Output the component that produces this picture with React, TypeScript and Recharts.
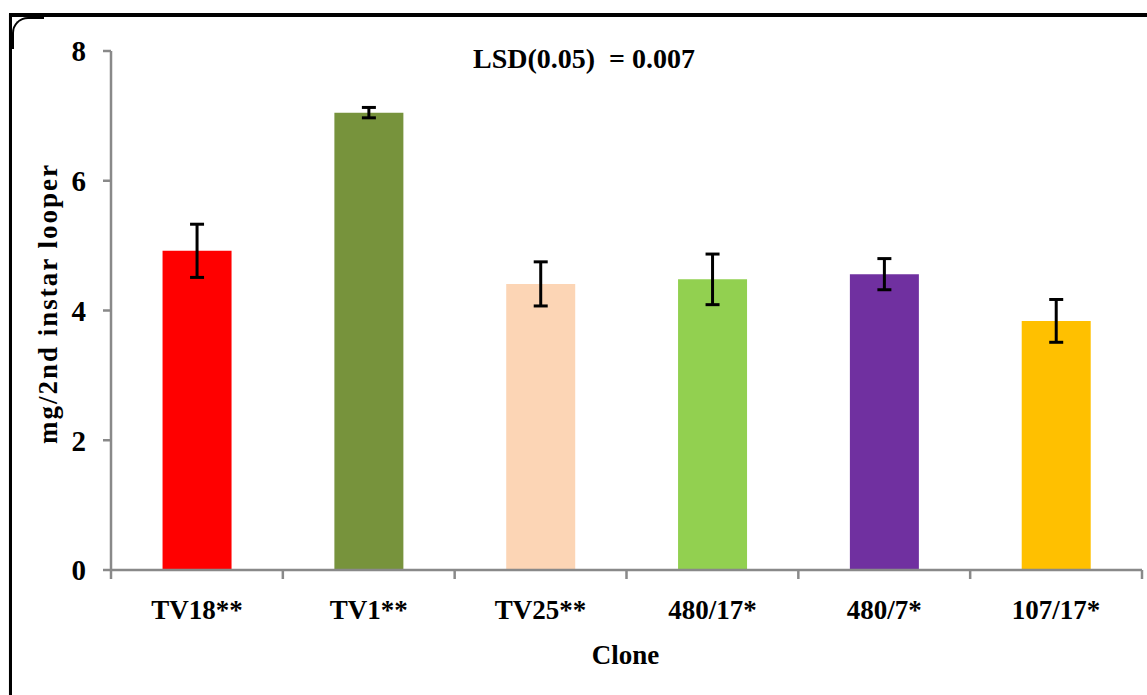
import { Bar, BarChart, Cell, ErrorBar, XAxis, YAxis } from "recharts";

const clones = ["TV18**", "TV1**", "TV25**", "480/17*", "480/7*", "107/17*"];
const means = [4.92, 7.05, 4.41, 4.48, 4.56, 3.84];
const errors = [0.41, 0.08, 0.34, 0.39, 0.24, 0.33];
const barColors = ["#FF0000", "#77933C", "#FCD5B5", "#92D050", "#7030A0", "#FFC000"];
const yTicks = [0, 2, 4, 6, 8];

const title = "LSD(0.05)  = 0.007";
const yTitle = "mg/2nd instar looper";
const xTitle = "Clone";

const font = "'Liberation Serif', 'Times New Roman', serif";
const axisGray = "#898989";
const xTickMargin = 30;

const rows = clones.map((clone, i) => ({ clone, mean: means[i], err: errors[i] }));

function YTitle({ viewBox }: any) {
    const cx = 57;
    const cy = viewBox.y + viewBox.height / 2 - 7;
    return (
        <text
            x={cx}
            y={cy}
            transform={`rotate(-90 ${cx} ${cy})`}
            textAnchor="middle"
            fontFamily={font}
            fontWeight="bold"
            fontSize={27}
            letterSpacing={2}
            fill="#000"
        >
            {yTitle}
        </text>
    );
}

function XTitle({ viewBox }: any) {
    return (
        <text
            x={viewBox.x + viewBox.width / 2 - 1}
            y={viewBox.y + 94}
            textAnchor="middle"
            fontFamily={font}
            fontWeight="bold"
            fontSize={27}
            fill="#000"
        >
            {xTitle}
        </text>
    );
}

// category label in the middle, tick marks on the category edges (Excel style)
function XTick(props: any) {
    const { x, y, payload, index, visibleTicksCount } = props;
    const axisWidth = Number(props.width) || 1031;
    const band = axisWidth / visibleTicksCount;
    const axisY = y - xTickMargin;
    const edge = (ex: number) => (
        <line x1={ex} x2={ex} y1={axisY} y2={axisY + 9} stroke={axisGray} strokeWidth={2.5} />
    );
    return (
        <g>
            {edge(x - band / 2)}
            {index === visibleTicksCount - 1 && edge(x + band / 2)}
            <text
                x={x}
                y={y}
                dy="0.71em"
                textAnchor="middle"
                fontFamily={font}
                fontWeight="bold"
                fontSize={27}
                fill="#000"
            >
                {payload.value}
            </text>
        </g>
    );
}

export default function App() {
    return (
        <div style={{ position: "absolute", left: 0, top: 0, width: 1147, height: 695, overflow: "hidden", background: "#fff" }}>
            <div
                style={{
                    position: "absolute",
                    left: 9,
                    top: 13,
                    width: 1300,
                    height: 900,
                    borderTop: "4px solid #000",
                    borderLeft: "3px solid #000",
                    boxShadow: "0 1px 1px #bbb",
                }}
            >
                <div
                    style={{
                        position: "absolute",
                        left: 0,
                        top: 0,
                        width: 30,
                        height: 30,
                        borderTop: "2px solid #000",
                        borderLeft: "2px solid #000",
                        borderTopLeftRadius: 16,
                    }}
                />
            </div>
            <div
                style={{
                    position: "absolute",
                    left: 384,
                    top: 45,
                    width: 400,
                    textAlign: "center",
                    whiteSpace: "pre",
                    fontFamily: font,
                    fontWeight: "bold",
                    fontSize: 28,
                    lineHeight: "28px",
                    color: "#000",
                }}
            >
                {title}
            </div>
            <div style={{ position: "absolute", left: 0, top: 0 }}>
                <BarChart
                    width={1147}
                    height={695}
                    data={rows}
                    margin={{ top: 51, right: 5, left: 0, bottom: 25 }}
                    barCategoryGap="30%"
                >
                    <XAxis
                        dataKey="clone"
                        height={100}
                        axisLine={{ stroke: axisGray, strokeWidth: 2.5 }}
                        tickLine={false}
                        tickSize={0}
                        tickMargin={xTickMargin}
                        interval={0}
                        tick={<XTick />}
                        label={<XTitle />}
                    />
                    <YAxis
                        domain={[0, 8]}
                        ticks={yTicks}
                        width={111}
                        axisLine={{ stroke: axisGray, strokeWidth: 2.5 }}
                        tickLine={{ stroke: axisGray, strokeWidth: 2.5 }}
                        tickSize={8}
                        tickMargin={17}
                        tick={{ fill: "#000", fontSize: 29, fontWeight: "bold", fontFamily: font }}
                        label={<YTitle />}
                    />
                    <Bar dataKey="mean" isAnimationActive={false}>
                        {rows.map((r, i) => (
                            <Cell key={r.clone} fill={barColors[i]} />
                        ))}
                        <ErrorBar dataKey="err" width={7} stroke="#000" strokeWidth={3} />
                    </Bar>
                </BarChart>
            </div>
        </div>
    );
}
